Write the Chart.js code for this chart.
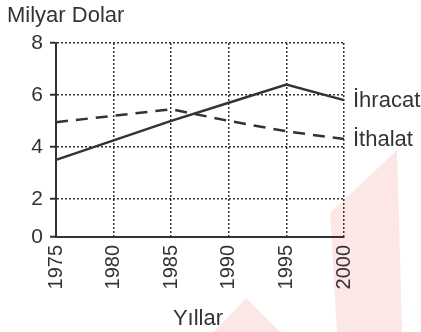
<!DOCTYPE html>
<html lang="tr">
<head>
<meta charset="utf-8">
<title>İhracat ve İthalat</title>
<script src="https://cdn.jsdelivr.net/npm/chart.js@4"></script>
<style>
  html, body { margin: 0; padding: 0; background: #fff; }
  #wrap { position: relative; width: 421px; height: 332px; }
  #bg, #chart { position: absolute; left: 0; top: 0; }
</style>
</head>
<body>
<div id="wrap">
  <svg id="bg" width="421" height="332">
    <polygon points="330,213 397,150 402,332 337,332" fill="#fde6e6"/>
    <polygon points="246,298 280,332 214,332" fill="#fde6e6"/>
  </svg>
  <canvas id="chart" width="421" height="332"></canvas>
</div>
<script>
// yearly values, billion dollars
let years = ['1975', '1980', '1985', '1990', '1995', '2000'];
let ihracat = [3.5, 4.25, 5.0, 5.7, 6.4, 5.8];
let ithalat = [4.95, 5.2, 5.45, 5.0, 4.6, 4.3];

let yTickValues = [0, 2, 4, 6, 8];
let yTickLabels = ['0', '2', '4', '6', '8'];
// the 0-2 band is drawn shorter than the rest, so the floor sits a bit above 0
let yFloor = 0.53;

let ink = '#333';
let font = '"Liberation Sans", Arial, sans-serif';

// names at the end of each line, plus the two axis captions
let captions = {
    id: 'captions',
    afterDatasetsDraw(chart) {
        let ctx = chart.ctx;
        let area = chart.chartArea;
        ctx.save();
        ctx.fillStyle = ink;
        ctx.font = '22px ' + font;
        ctx.textBaseline = 'middle';
        chart.data.datasets.forEach((ds, i) => {
            let pts = chart.getDatasetMeta(i).data;
            let last = pts[pts.length - 1];
            ctx.fillText(ds.label, last.x + 9, last.y + 1);
        });
        ctx.textBaseline = 'alphabetic';
        ctx.fillText('Milyar Dolar', 7, 22);
        ctx.textAlign = 'center';
        ctx.fillText('Yıllar', (area.left + area.right) / 2 - 2, 325);
        ctx.restore();
    }
};

let chart = new Chart(document.getElementById('chart'), {
    type: 'line',
    data: {
        labels: years,
        datasets: [{
            label: 'İhracat',
            data: ihracat,
            borderColor: ink,
            borderWidth: 2.5,
            pointRadius: 0,
            tension: 0
        }, {
            label: 'İthalat',
            data: ithalat,
            borderColor: ink,
            borderWidth: 2.5,
            borderDash: [12, 8],
            pointRadius: 0,
            tension: 0
        }]
    },
    options: {
        responsive: false,
        animation: false,
        layout: { padding: { top: 43, right: 77, bottom: 0, left: 0 } },
        plugins: {
            legend: { display: false },
            tooltip: { enabled: false }
        },
        scales: {
            x: {
                offset: false,
                border: { display: true, color: ink, width: 2, dash: [2, 2] },
                grid: { color: ink, lineWidth: 1.5, drawTicks: false },
                ticks: {
                    color: ink,
                    font: { family: font, size: 20 },
                    minRotation: 90,
                    maxRotation: 90,
                    padding: 8,
                    autoSkip: false
                },
                afterFit(scale) { scale.height = 95; }
            },
            y: {
                min: yFloor,
                max: 8,
                border: { display: true, color: ink, width: 2, dash: [2, 2] },
                grid: {
                    color: ink,
                    lineWidth: 1.5,
                    tickLength: 6,
                    tickColor: ink,
                    tickWidth: 2,
                    tickBorderDash: []
                },
                afterBuildTicks(scale) {
                    scale.ticks = yTickValues.map(v => ({ value: Math.max(v, yFloor) }));
                },
                ticks: {
                    color: ink,
                    font: { family: font, size: 21 },
                    padding: 7,
                    callback: (v, i) => yTickLabels[i]
                },
                afterFit(scale) { scale.width = 56; }
            }
        }
    },
    plugins: [captions]
});
</script>
</body>
</html>
